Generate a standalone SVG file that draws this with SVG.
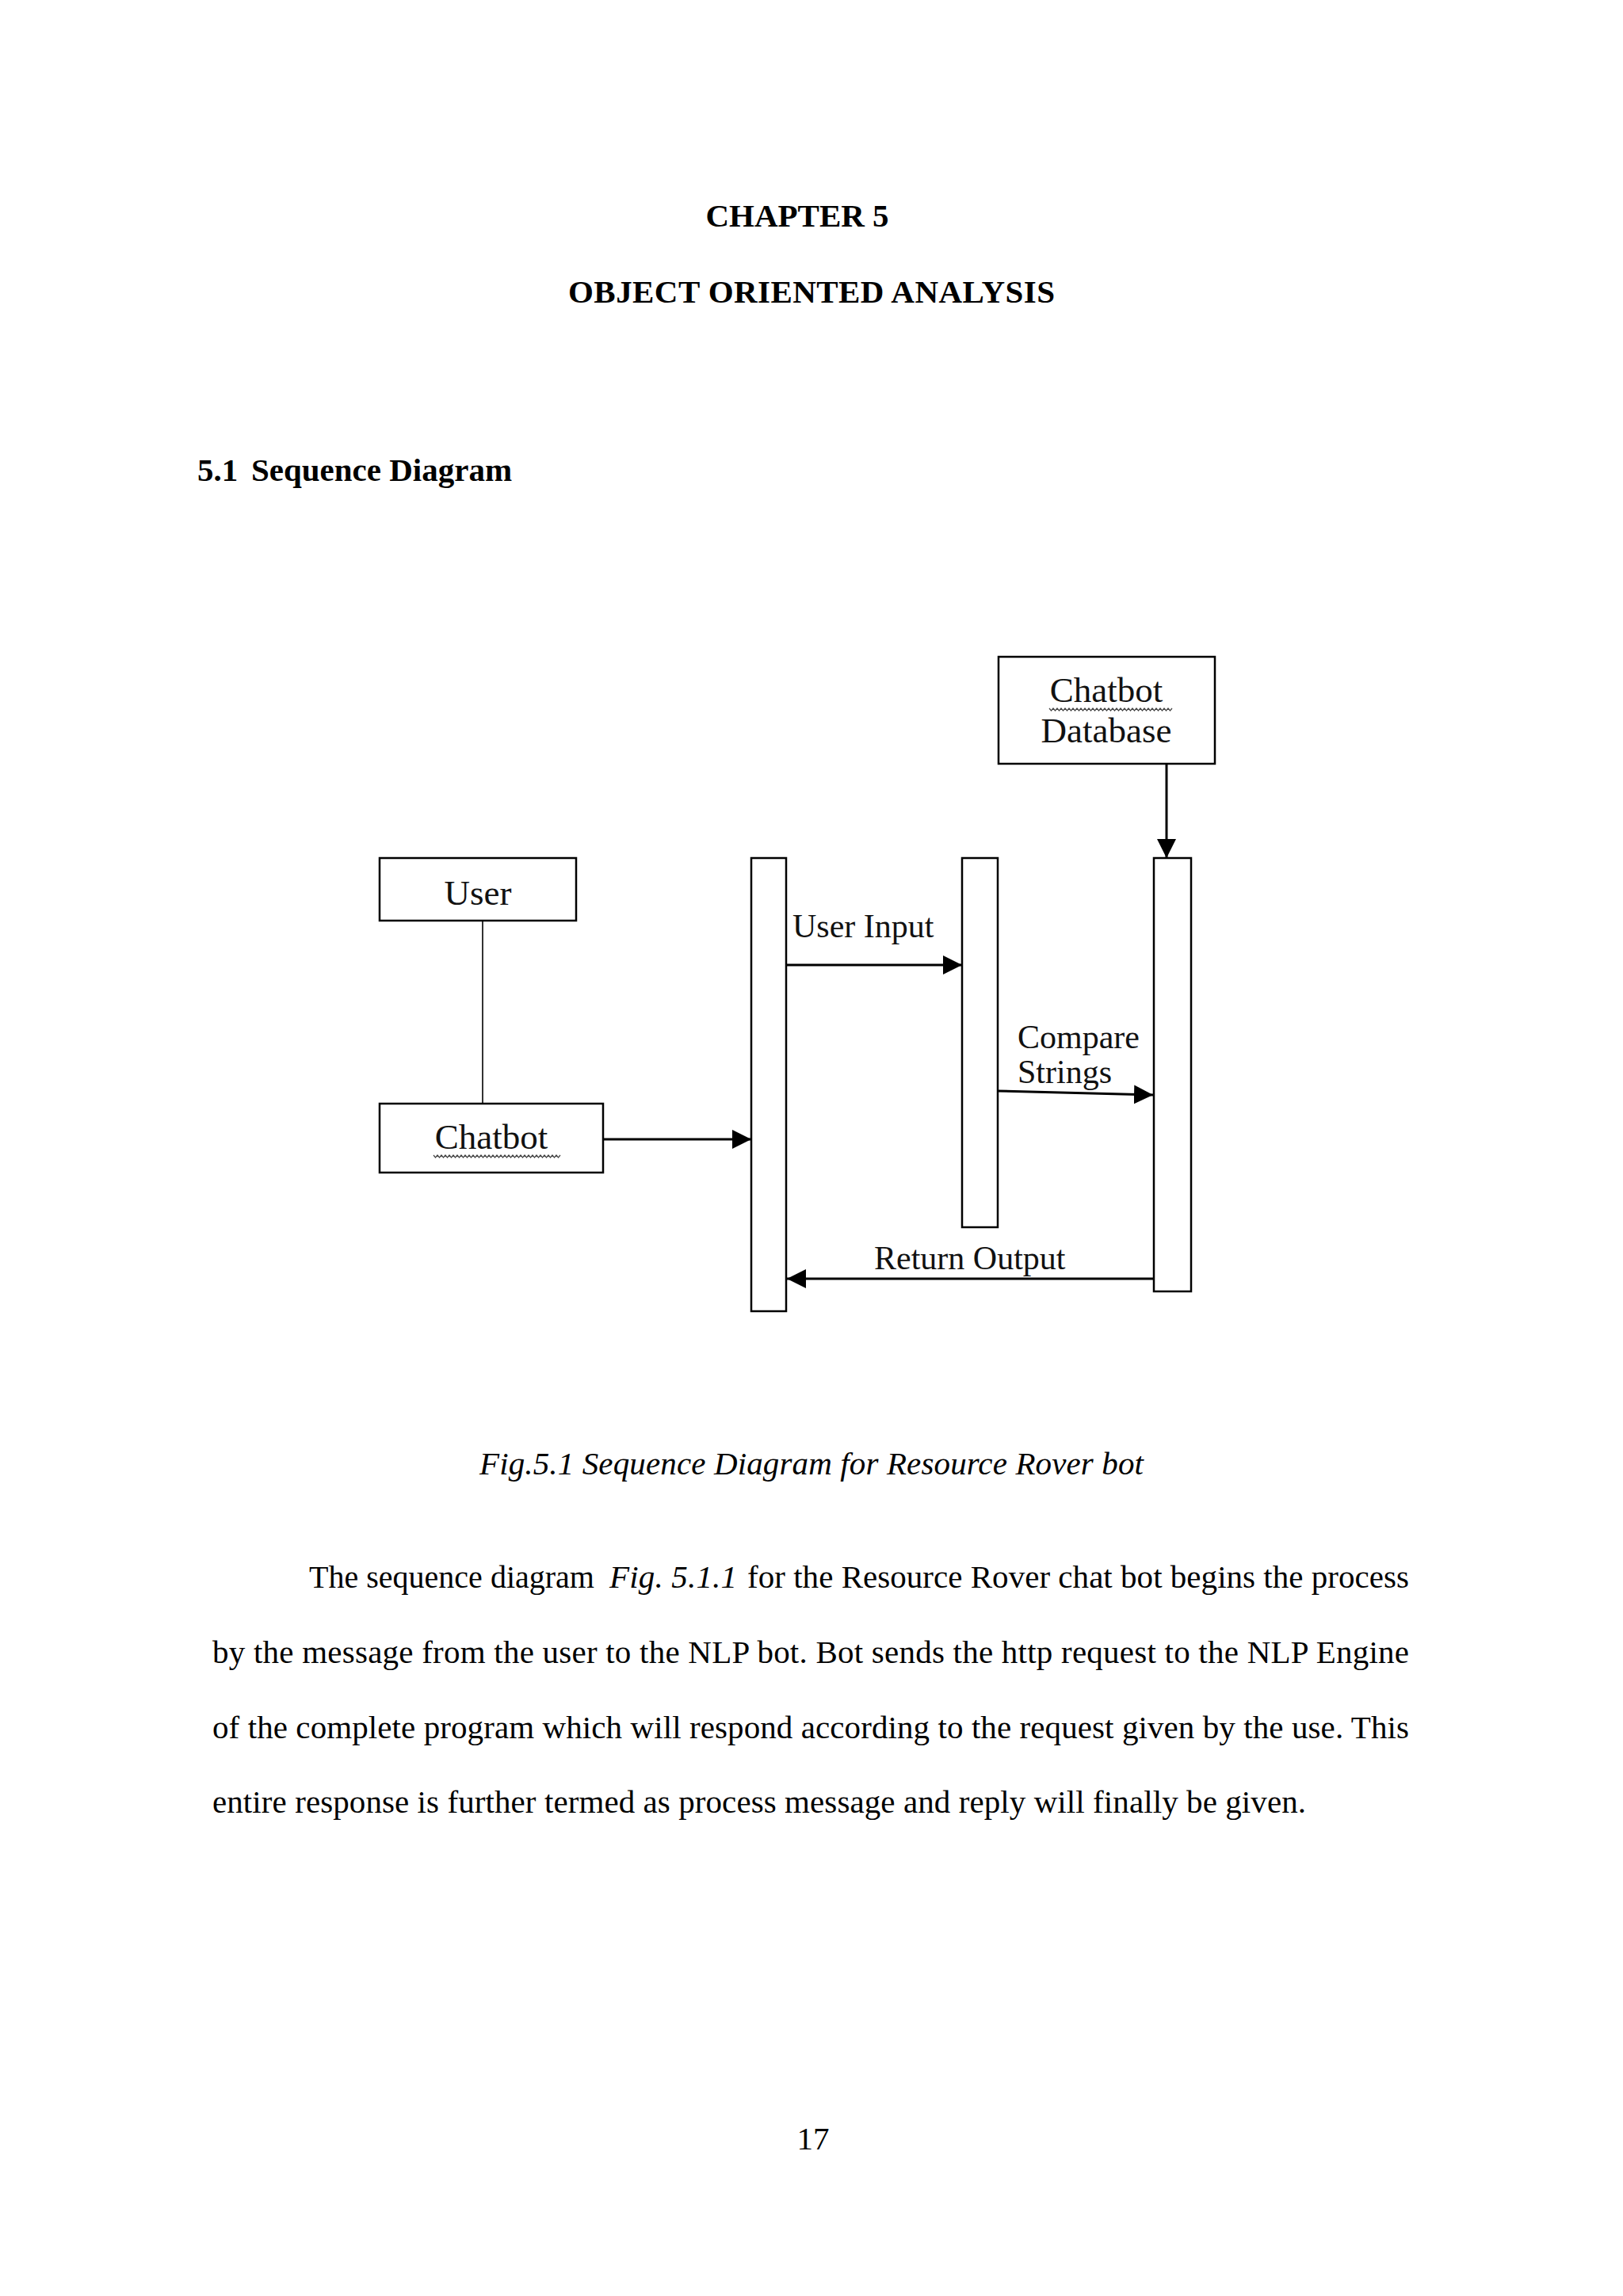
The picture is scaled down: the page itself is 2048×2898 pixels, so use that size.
<svg xmlns="http://www.w3.org/2000/svg" width="2048" height="2898" viewBox="0 0 2048 2898">
<style>
  .page { font-family: "Liberation Serif", "Times New Roman", serif; font-size: 41px; fill: #000; }
  .bold { font-weight: bold; }
  .ital { font-style: italic; }
  .lbl { font-family: "Liberation Serif", "Times New Roman", serif; font-size: 42px; fill: #111; }
  .nlbl { font-family: "Liberation Serif", "Times New Roman", serif; font-size: 45px; fill: #111; }
  .box { fill: #fff; stroke: #000; stroke-width: 2.5; }
  .life { fill: #fff; stroke: #000; stroke-width: 2.5; }
  .conn { fill: none; stroke: #000; stroke-width: 3; }
  .thin { fill: none; stroke: #000; stroke-width: 1.6; }
  .squig { fill: none; stroke: #444; stroke-width: 1.2; }
</style>
<defs>
  <marker id="arrow" markerUnits="userSpaceOnUse" markerWidth="26" markerHeight="26" refX="24" refY="12" orient="auto">
    <path d="M0,0 L24,12 L0,24 Z" fill="#000"/>
  </marker>
</defs>
<rect width="2048" height="2898" fill="#fff"/>

<g id="page-text" class="page">
  <text class="bold" x="1006" y="286" text-anchor="middle">CHAPTER 5</text>
  <text class="bold" x="1024" y="382" text-anchor="middle" textLength="614" lengthAdjust="spacing">OBJECT ORIENTED ANALYSIS</text>
  <text class="bold" x="249" y="607">5.1<tspan x="317">Sequence Diagram</tspan></text>
  <text class="ital" x="605" y="1861" textLength="838" lengthAdjust="spacing">Fig.5.1 Sequence Diagram for Resource Rover bot</text>
  <text x="390" y="2004" textLength="360" lengthAdjust="spacingAndGlyphs">The sequence diagram</text>
  <text class="ital" x="769" y="2004" textLength="161" lengthAdjust="spacing">Fig. 5.1.1</text>
  <text x="943" y="2004" textLength="835" lengthAdjust="spacing">for the Resource Rover chat bot begins the process</text>
  <text x="268" y="2099" textLength="1510" lengthAdjust="spacing">by the message from the user to the NLP bot. Bot  sends the http request to the NLP Engine</text>
  <text x="268" y="2194" textLength="1510" lengthAdjust="spacing">of the complete program which will respond according to the request given by the use. This</text>
  <text x="268" y="2288" textLength="1380" lengthAdjust="spacing">entire response is further termed as process message and reply will finally be given.</text>
  <text x="1026" y="2713" text-anchor="middle">17</text>
</g>

<g id="node-chatbot-database">
  <rect class="box" x="1260" y="829" width="273" height="135"/>
  <text class="nlbl" x="1396" y="886" text-anchor="middle">Chatbot</text>
  <path class="squig" d="M1324,894 l2.5,3 l2.5,-3 l2.5,3 l2.5,-3 l2.5,3 l2.5,-3 l2.5,3 l2.5,-3 l2.5,3 l2.5,-3 l2.5,3 l2.5,-3 l2.5,3 l2.5,-3 l2.5,3 l2.5,-3 l2.5,3 l2.5,-3 l2.5,3 l2.5,-3 l2.5,3 l2.5,-3 l2.5,3 l2.5,-3 l2.5,3 l2.5,-3 l2.5,3 l2.5,-3 l2.5,3 l2.5,-3 l2.5,3 l2.5,-3 l2.5,3 l2.5,-3 l2.5,3 l2.5,-3 l2.5,3 l2.5,-3 l2.5,3 l2.5,-3 l2.5,3 l2.5,-3 l2.5,3 l2.5,-3 l2.5,3 l2.5,-3 l2.5,3 l2.5,-3 l2.5,3 l2.5,-3 l2.5,3 l2.5,-3 l2.5,3 l2.5,-3 l2.5,3 l2.5,-3 l2.5,3 l2.5,-3 l2.5,3 l2.5,-3 l2.5,3 l2.5,-3"/>
  <text class="nlbl" x="1396" y="937" text-anchor="middle">Database</text>
</g>

<g id="node-user">
  <rect class="box" x="479" y="1083" width="248" height="79"/>
  <text class="nlbl" x="603" y="1142" text-anchor="middle">User</text>
</g>

<g id="node-chatbot">
  <rect class="box" x="479" y="1393" width="282" height="87"/>
  <text class="nlbl" x="620" y="1450" text-anchor="middle">Chatbot</text>
  <path class="squig" d="M547,1458 l2.5,3 l2.5,-3 l2.5,3 l2.5,-3 l2.5,3 l2.5,-3 l2.5,3 l2.5,-3 l2.5,3 l2.5,-3 l2.5,3 l2.5,-3 l2.5,3 l2.5,-3 l2.5,3 l2.5,-3 l2.5,3 l2.5,-3 l2.5,3 l2.5,-3 l2.5,3 l2.5,-3 l2.5,3 l2.5,-3 l2.5,3 l2.5,-3 l2.5,3 l2.5,-3 l2.5,3 l2.5,-3 l2.5,3 l2.5,-3 l2.5,3 l2.5,-3 l2.5,3 l2.5,-3 l2.5,3 l2.5,-3 l2.5,3 l2.5,-3 l2.5,3 l2.5,-3 l2.5,3 l2.5,-3 l2.5,3 l2.5,-3 l2.5,3 l2.5,-3 l2.5,3 l2.5,-3 l2.5,3 l2.5,-3 l2.5,3 l2.5,-3 l2.5,3 l2.5,-3 l2.5,3 l2.5,-3 l2.5,3 l2.5,-3 l2.5,3 l2.5,-3 l2.5,3 l2.5,-3"/>
</g>

<g id="node-lifeline-1">
  <rect class="life" x="948" y="1083" width="44" height="572"/>
</g>
<g id="node-lifeline-2">
  <rect class="life" x="1214" y="1083" width="45" height="466"/>
</g>
<g id="node-lifeline-3">
  <rect class="life" x="1456" y="1083" width="47" height="547"/>
</g>

<g id="connectors">
  <line class="thin" x1="609" y1="1162" x2="609" y2="1393"/>
  <line class="conn" x1="1472" y1="964" x2="1472" y2="1083" marker-end="url(#arrow)"/>
  <line class="conn" x1="761" y1="1438" x2="948" y2="1438" marker-end="url(#arrow)"/>
  <line class="conn" x1="992" y1="1218" x2="1214" y2="1218" marker-end="url(#arrow)"/>
  <line class="conn" x1="1259" y1="1377" x2="1455" y2="1382" marker-end="url(#arrow)"/>
  <line class="conn" x1="1456" y1="1614" x2="993" y2="1614" marker-end="url(#arrow)"/>
  <text class="lbl" x="1000" y="1183">User Input</text>
  <text class="lbl" x="1284" y="1323">Compare</text>
  <text class="lbl" x="1284" y="1367">Strings</text>
  <text class="lbl" x="1103" y="1602">Return Output</text>
</g>
</svg>
